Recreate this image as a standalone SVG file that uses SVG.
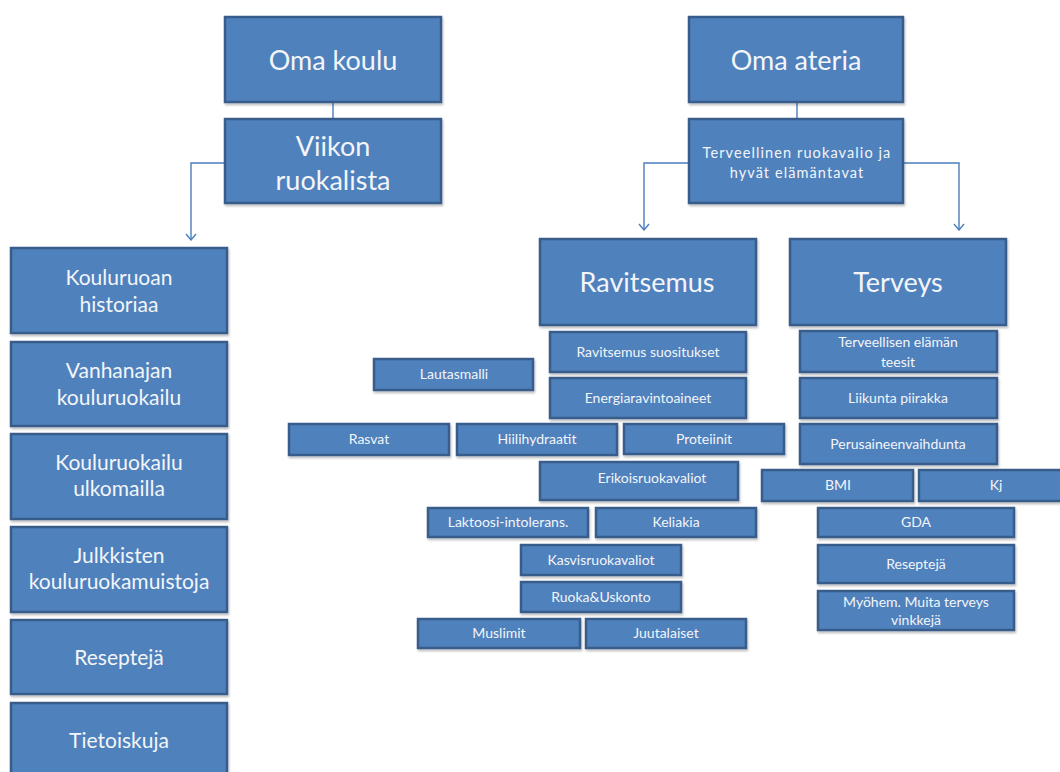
<svg xmlns="http://www.w3.org/2000/svg" width="1060" height="772" viewBox="0 0 1060 772">
<defs>
<filter id="sh" x="-10%" y="-10%" width="130%" height="140%">
<feDropShadow dx="1" dy="2" stdDeviation="1.2" flood-color="#000" flood-opacity="0.25"/>
</filter>
<marker id="ar" viewBox="0 0 12 12" refX="11" refY="6" markerWidth="12" markerHeight="12" markerUnits="userSpaceOnUse" orient="auto">
<path d="M5,1 L11,6 L5,11" fill="none" stroke="#4A7EBB" stroke-width="1.4"/>
</marker>
</defs>
<style>
.b{fill:#4F81BD;stroke:#385D8A;stroke-width:2.5;filter:url(#sh)}
.t{fill:#F3F5F8;font-family:Lato,"Open Sans",sans-serif;text-anchor:middle}
.xl{font-size:27px}
.l{font-size:27px}
.m{font-size:21px}
.s{font-size:14px}
.sp{font-size:14.5px;letter-spacing:1.1px}
.c{fill:none;stroke:#4A7EBB;stroke-width:1.4}
</style>
<rect width="1060" height="772" fill="#fff"/>
<g id="connectors">
<line class="c" x1="333" y1="102" x2="333" y2="119"/>
<path class="c" d="M225,163 H191 V240" marker-end="url(#ar)"/>
<line class="c" x1="797" y1="102" x2="797" y2="119"/>
<path class="c" d="M689,163 H644 V230" marker-end="url(#ar)"/>
<path class="c" d="M903,163 H959 V230" marker-end="url(#ar)"/>
</g>
<g id="oma-koulu"><rect class="b" x="225" y="17" width="216" height="85"/><text class="t xl" x="333" y="70">Oma koulu</text></g>
<g id="viikon-ruokalista"><rect class="b" x="225" y="119" width="216" height="84"/><text class="t xl" x="333" y="156">Viikon</text><text class="t xl" x="333" y="190">ruokalista</text></g>
<g id="oma-ateria"><rect class="b" x="689" y="17" width="214" height="85"/><text class="t xl" x="796" y="70">Oma ateria</text></g>
<g id="terveellinen"><rect class="b" x="689" y="119" width="214" height="84"/><text class="t sp" x="797" y="158">Terveellinen ruokavalio ja</text><text class="t sp" x="797" y="178">hyvät elämäntavat</text></g>
<g id="ravitsemus"><rect class="b" x="540" y="239" width="216" height="86"/><text class="t l" x="647" y="292">Ravitsemus</text></g>
<g id="terveys"><rect class="b" x="790" y="239" width="216" height="86"/><text class="t l" x="898" y="292">Terveys</text></g>

<g id="kouluruoan-historiaa"><rect class="b" x="11" y="248" width="216" height="85"/><text class="t m" x="119" y="285">Kouluruoan</text><text class="t m" x="119" y="312">historiaa</text></g>
<g id="vanhanajan"><rect class="b" x="11" y="342" width="216" height="84"/><text class="t m" x="119" y="378">Vanhanajan</text><text class="t m" x="119" y="405">kouluruokailu</text></g>
<g id="ulkomailla"><rect class="b" x="11" y="434" width="216" height="85"/><text class="t m" x="119" y="470">Kouluruokailu</text><text class="t m" x="119" y="496">ulkomailla</text></g>
<g id="julkkisten"><rect class="b" x="11" y="527" width="216" height="85"/><text class="t m" x="119" y="563">Julkkisten</text><text class="t m" x="119" y="589">kouluruokamuistoja</text></g>
<g id="reseptejä-left"><rect class="b" x="11" y="620" width="216" height="74"/><text class="t m" x="119" y="665">Reseptejä</text></g>
<g id="tietoiskuja"><rect class="b" x="11" y="703" width="216" height="80"/><text class="t m" x="119" y="748">Tietoiskuja</text></g>

<g id="ravitsemus-suositukset"><rect class="b" x="550" y="332" width="196" height="40"/><text class="t s" x="648" y="357">Ravitsemus suositukset</text></g>
<g id="energiaravintoaineet"><rect class="b" x="550" y="378" width="196" height="40"/><text class="t s" x="648" y="403">Energiaravintoaineet</text></g>
<g id="lautasmalli"><rect class="b" x="374" y="359" width="159" height="31"/><text class="t s" x="454" y="379">Lautasmalli</text></g>
<g id="rasvat"><rect class="b" x="289" y="424" width="160" height="31"/><text class="t s" x="369" y="444">Rasvat</text></g>
<g id="hiilihydraatit"><rect class="b" x="457" y="424" width="160" height="31"/><text class="t s" x="537" y="444">Hiilihydraatit</text></g>
<g id="proteiinit"><rect class="b" x="624" y="424" width="160" height="30"/><text class="t s" x="704" y="444">Proteiinit</text></g>
<g id="erikoisruokavaliot"><rect class="b" x="540" y="462" width="198" height="38"/><text class="t s" x="652" y="483">Erikoisruokavaliot</text></g>
<g id="laktoosi"><rect class="b" x="428" y="508" width="160" height="29"/><text class="t s" x="508" y="527">Laktoosi-intolerans.</text></g>
<g id="keliakia"><rect class="b" x="596" y="508" width="160" height="29"/><text class="t s" x="676" y="527">Keliakia</text></g>
<g id="kasvisruokavaliot"><rect class="b" x="521" y="545" width="160" height="30"/><text class="t s" x="601" y="565">Kasvisruokavaliot</text></g>
<g id="ruoka-uskonto"><rect class="b" x="521" y="582" width="160" height="30"/><text class="t s" x="601" y="602">Ruoka&amp;Uskonto</text></g>
<g id="muslimit"><rect class="b" x="418" y="619" width="162" height="29"/><text class="t s" x="499" y="638">Muslimit</text></g>
<g id="juutalaiset"><rect class="b" x="586" y="619" width="160" height="29"/><text class="t s" x="666" y="638">Juutalaiset</text></g>

<g id="terveellisen-teesit"><rect class="b" x="800" y="331" width="197" height="41"/><text class="t s" x="898" y="347">Terveellisen elämän</text><text class="t s" x="898" y="367">teesit</text></g>
<g id="liikunta"><rect class="b" x="800" y="378" width="197" height="40"/><text class="t s" x="898" y="403">Liikunta piirakka</text></g>
<g id="perusaineenvaihdunta"><rect class="b" x="800" y="424" width="197" height="40"/><text class="t s" x="898" y="449">Perusaineenvaihdunta</text></g>
<g id="bmi"><rect class="b" x="762" y="470" width="151" height="31"/><text class="t s" x="838" y="490">BMI</text></g>
<g id="kj"><rect class="b" x="919" y="470" width="155" height="31"/><text class="t s" x="996" y="490">Kj</text></g>
<g id="gda"><rect class="b" x="818" y="508" width="196" height="29"/><text class="t s" x="916" y="527">GDA</text></g>
<g id="reseptejä-right"><rect class="b" x="818" y="545" width="196" height="38"/><text class="t s" x="916" y="569">Reseptejä</text></g>
<g id="myohem"><rect class="b" x="818" y="591" width="196" height="39"/><text class="t s" x="916" y="607">Myöhem. Muita  terveys</text><text class="t s" x="916" y="625">vinkkejä</text></g>
</svg>
